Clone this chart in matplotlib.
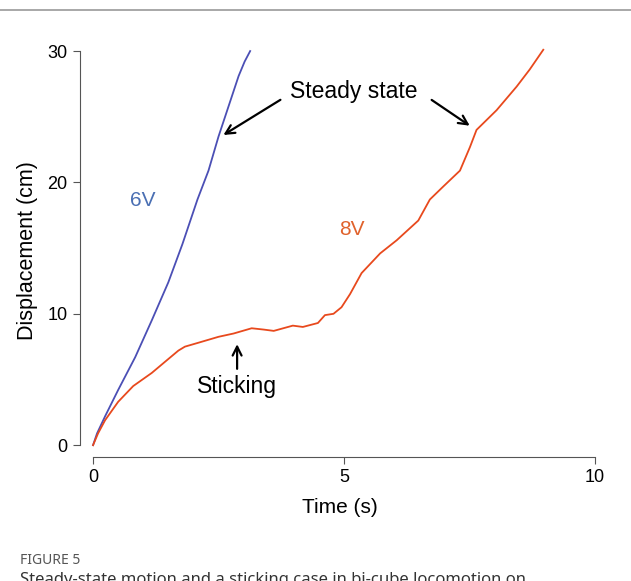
import numpy as np
import matplotlib.pyplot as plt

plt.rcParams['font.family'] = ['Liberation Sans', 'DejaVu Sans']

# 6V run (time in s, displacement in cm)
t_6v = [0, 0.08, 0.24, 0.5, 0.84, 1.17, 1.5, 1.78, 2.08, 2.3, 2.5, 2.7, 2.9, 3.02, 3.13]
d_6v = [0, 0.9, 2.2, 4.2, 6.7, 9.5, 12.4, 15.3, 18.7, 20.9, 23.5, 25.8, 28.1, 29.2, 30.0]

# 8V run, with the sticking phase
t_8v = [0, 0.1, 0.24, 0.5, 0.8, 1.17, 1.45, 1.7, 1.83, 2.1, 2.5, 2.8, 3.16, 3.4, 3.6,
        3.98, 4.18, 4.48, 4.62, 4.79, 4.95, 5.12, 5.35, 5.72, 6.05, 6.48, 6.71, 6.98,
        7.31, 7.51, 7.64, 8.04, 8.44, 8.7, 8.97]
d_8v = [0, 0.9, 1.9, 3.3, 4.5, 5.5, 6.4, 7.2, 7.5, 7.8, 8.25, 8.5, 8.9, 8.8, 8.7,
        9.1, 9.0, 9.3, 9.9, 10.0, 10.5, 11.5, 13.1, 14.6, 15.6, 17.1, 18.7, 19.7,
        20.9, 22.7, 24.0, 25.5, 27.3, 28.6, 30.1]

fig = plt.figure(figsize=(6.31, 5.81), dpi=100)
fig.add_artist(plt.Line2D([0, 1], [1 - 10 / 581, 1 - 10 / 581], color='#999999', lw=1.2))

ax = fig.add_axes([80 / 631, 124 / 581, 520 / 631, 412.5 / 581])
ax.plot(t_6v, d_6v, color='#4b4fb5', lw=1.3)
ax.plot(t_8v, d_8v, color='#e8491d', lw=1.3)

ax.set_xlim(-0.26, 10.1)
ax.set_ylim(-0.9, 30.5)
for s in ['top', 'right']:
    ax.spines[s].set_visible(False)
ax.spines['left'].set_bounds(0, 30)
ax.spines['bottom'].set_bounds(0, 10)
for s in ['left', 'bottom']:
    ax.spines[s].set_color('#555555')
ax.set_xticks([0, 5, 10])
ax.set_yticks([0, 10, 20, 30])
ax.tick_params(direction='out', length=5, color='#555555', labelsize=13, pad=4)
ax.set_xlabel('Time (s)', fontsize=15, labelpad=8)
ax.set_ylabel('Displacement (cm)', fontsize=15.5, labelpad=7)

ax.text(1.0, 18.6, '6V', color='#4a6fb3', fontsize=15, ha='center', va='center')
ax.text(5.15, 16.4, '8V', color='#e0622c', fontsize=15, ha='center', va='center')

ax.text(5.2, 26.9, 'Steady state', fontsize=16.5, ha='center', va='center')
arrow = dict(arrowstyle='->', color='black', lw=1.6, mutation_scale=16)
ax.annotate('', xy=(2.55, 23.5), xytext=(3.78, 26.4), arrowprops=arrow)
ax.annotate('', xy=(7.55, 24.2), xytext=(6.7, 26.4), arrowprops=arrow)
ax.text(2.87, 4.5, 'Sticking', fontsize=16.5, ha='center', va='center')
ax.annotate('', xy=(2.87, 7.9), xytext=(2.87, 5.6), arrowprops=arrow)

fig.text(20 / 631, 1 - 560 / 581, 'FIGURE 5', fontsize=10, color='#555555',
         family=['Noto Sans', 'DejaVu Sans'], va='center')
fig.text(20 / 631, 1 - 572 / 581, 'Steady-state motion and a sticking case in bi-cube locomotion on',
         fontsize=12, color='#333333', family=['Noto Sans', 'DejaVu Sans'], va='top')

fig.savefig('out.png', dpi=100)
